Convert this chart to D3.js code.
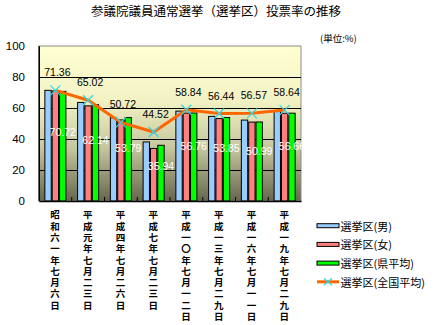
<!DOCTYPE html>
<html><head><meta charset="utf-8">
<script src="https://cdn.jsdelivr.net/npm/d3@7"></script>
<style>html,body{margin:0;padding:0;background:#fff;}svg{display:block;}</style>
</head><body>
<script>
const categories = ["昭和六一年七月六日","平成元年七月二三日","平成四年七月二六日","平成七年七月二三日","平成一〇年七月一二日","平成一三年七月二九日","平成一六年七月一一日","平成一九年七月二九日"];
const seriesNames = ["選挙区(男)","選挙区(女)","選挙区(県平均)","選挙区(全国平均)"];
const male   = [71.4, 63.6, 53.7, 38.1, 58.0, 54.6, 52.2, 58.0];
const female = [71.0, 61.4, 52.3, 33.9, 56.7, 53.2, 50.9, 56.6];
const prefAvg = [70.72, 62.14, 53.79, 35.94, 56.76, 53.85, 50.99, 56.66];
const national = [71.36, 65.02, 50.72, 44.52, 58.84, 56.44, 56.57, 58.64];
const yTicks = [0, 20, 40, 60, 80, 100];
const titleText = "参議院議員通常選挙（選挙区）投票率の推移";
const unitText = "(単位:%)";

const W = 435, H = 325;
const colors = ["#99CCFF", "#FF8080", "#00FF00"];
const lineColor = "#FF6600", markColor = "#33D6E0";
const jp = "'Noto Sans CJK JP', sans-serif";
const num = "'Liberation Sans', Arial, sans-serif";

const svg = d3.select("body").append("svg").attr("width", W).attr("height", H);
const plot = {l: 39, r: 301, t: 46, b: 201};

const defs = svg.append("defs");
const grad = defs.append("linearGradient").attr("id", "bg").attr("x1", 0).attr("y1", 0).attr("x2", 0).attr("y2", 1);
grad.append("stop").attr("offset", 0).attr("stop-color", "#FFFFD2");
grad.append("stop").attr("offset", 0.35).attr("stop-color", "#F2F2C4");
grad.append("stop").attr("offset", 0.65).attr("stop-color", "#C8C8A0");
grad.append("stop").attr("offset", 1).attr("stop-color", "#66664F");

const x = d3.scaleBand().domain(categories).range([plot.l, plot.r]).paddingInner(0).paddingOuter(0);
const x1 = d3.scaleBand().domain([0,1,2]).range([0, x.bandwidth()]).paddingInner(0).paddingOuter(0.73);
const y = d3.scaleLinear().domain([0, 100]).range([plot.b, plot.t]);

// title
svg.append("text").attr("x", 216).attr("y", 10).attr("text-anchor", "middle").attr("dominant-baseline", "central")
  .attr("font-family", jp).attr("font-size", 12.5).attr("fill", "#000").text(titleText);
svg.append("text").attr("x", 320).attr("y", 37.5).attr("dominant-baseline", "central")
  .attr("font-family", jp).attr("font-size", 9.5).attr("fill", "#000").text(unitText);

// plot background
svg.append("rect").attr("x", plot.l).attr("y", plot.t).attr("width", plot.r - plot.l).attr("height", plot.b - plot.t)
  .attr("fill", "url(#bg)").attr("stroke", "#8C8C8C").attr("stroke-width", 1);

// gridlines
svg.append("g").selectAll("line").data(yTicks.filter(d => d > 0 && d < 100)).join("line")
  .attr("x1", plot.l).attr("x2", plot.r).attr("y1", d => Math.round(y(d)) + 0.5).attr("y2", d => Math.round(y(d)) + 0.5)
  .attr("stroke", "#000").attr("stroke-width", 1);

// y axis
const yAxis = d3.axisLeft(y).tickValues(yTicks).tickSize(0).tickPadding(14).tickFormat(d3.format("d"));
const ga = svg.append("g").attr("transform", `translate(${plot.l},0)`).call(yAxis);
ga.select(".domain").attr("stroke", "#000");
ga.selectAll("text").attr("font-family", num).attr("font-size", 11.5).attr("fill", "#000");

// bars
const seriesVals = [male, female, prefAvg];
const groups = svg.append("g").selectAll("g").data(categories).join("g")
  .attr("transform", d => `translate(${x(d)},0)`);
groups.selectAll("rect").data((d, i) => seriesVals.map((s, k) => ({k, v: s[i]}))).join("rect")
  .attr("x", d => x1(d.k) + 0.5).attr("width", x1.bandwidth() - 1)
  .attr("y", d => y(d.v)).attr("height", d => y(0) - y(d.v))
  .attr("fill", d => colors[d.k]).attr("stroke", "#000").attr("stroke-width", 1);

// x axis
const xAxis = d3.axisBottom(x).tickSize(0).tickFormat("");
const gx = svg.append("g").attr("transform", `translate(0,${plot.b})`).call(xAxis);
gx.select(".domain").attr("stroke", "#000").attr("stroke-width", 1.5);
svg.append("g").selectAll("line").data(categories.slice(1)).join("line")
  .attr("x1", d => x(d)).attr("x2", d => x(d)).attr("y1", plot.b).attr("y2", plot.b - 4).attr("stroke", "#000");
svg.append("line").attr("x1", plot.l).attr("x2", plot.l).attr("y1", plot.t).attr("y2", plot.b).attr("stroke", "#000");

// prefectural average labels (white)
svg.append("g").selectAll("text").data(categories).join("text")
  .attr("x", (d, i) => x(d) + x1(2) + x1.bandwidth() / 2)
  .attr("y", (d, i) => y(prefAvg[i]) + (y(0) - y(prefAvg[i])) * 0.37)
  .attr("text-anchor", "middle").attr("dominant-baseline", "central")
  .attr("font-family", num).attr("font-size", 10.5).attr("fill", "#fff")
  .text((d, i) => d3.format(".2f")(prefAvg[i]));

// national line
const cx = (d) => x(d) + x1(1) + x1.bandwidth() / 2;
const line = d3.line().x((v, i) => cx(categories[i])).y(v => y(v));
svg.append("path").datum(national).attr("d", line).attr("fill", "none")
  .attr("stroke", lineColor).attr("stroke-width", 3);
const mk = svg.append("g").selectAll("g").data(national).join("g")
  .attr("transform", (v, i) => `translate(${cx(categories[i])},${y(v)})`);
mk.append("path").attr("d", "M-5,-5L5,5M-5,5L5,-5").attr("stroke", markColor).attr("stroke-width", 1.2);

// national labels
svg.append("g").selectAll("text").data(national).join("text")
  .attr("x", (v, i) => x(categories[i]) + x.bandwidth() / 2 + 2)
  .attr("y", v => y(v) - 18)
  .attr("text-anchor", "middle").attr("dominant-baseline", "central")
  .attr("font-family", num).attr("font-size", 10.5).attr("fill", "#000")
  .text(v => d3.format(".2f")(v));

// category labels (vertical)
svg.append("g").selectAll("text").data(categories).join("text")
  .attr("x", d => x(d) + x.bandwidth() / 2 - 0.5).attr("y", 210)
  .attr("style", "writing-mode: vertical-rl; text-orientation: upright; letter-spacing: 1.8px;")
  .attr("font-family", jp).attr("font-size", 9.5).attr("font-weight", "bold").attr("fill", "#000")
  .text(d => d);

// legend
const lg = svg.append("g").attr("transform", "translate(317,0)");
const rows = lg.selectAll("g").data(seriesNames).join("g")
  .attr("transform", (d, i) => `translate(0,${225.7 + i * 18.7})`);
rows.filter((d, i) => i < 3).append("rect")
  .attr("x", 0).attr("y", -2).attr("width", 22).attr("height", 4)
  .attr("fill", (d, i) => colors[i]).attr("stroke", "#000").attr("stroke-width", 1);
const lr = rows.filter((d, i) => i === 3);
lr.append("line").attr("x1", 0).attr("x2", 22).attr("y1", 0).attr("y2", 0).attr("stroke", lineColor).attr("stroke-width", 3);
lr.append("path").attr("d", "M7,-3.5L15,3.5M7,3.5L15,-3.5").attr("stroke", markColor).attr("stroke-width", 1.2);
rows.append("text").attr("x", 23.5).attr("y", 0).attr("dominant-baseline", "central")
  .attr("font-family", jp).attr("font-size", 11).attr("fill", "#000").text(d => d);
</script>
</body></html>
